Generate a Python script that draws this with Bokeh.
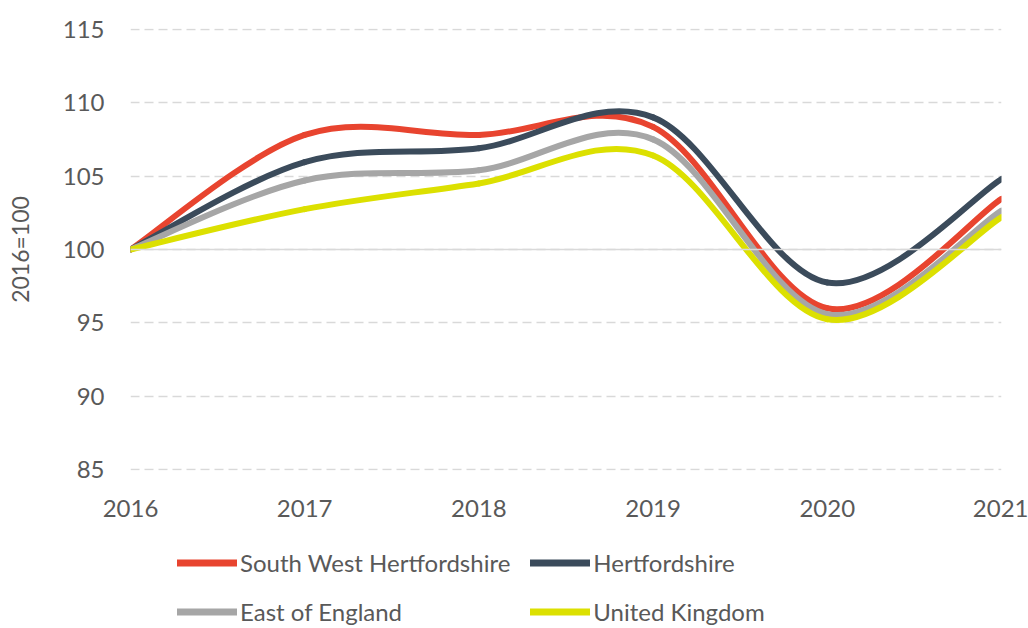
import numpy as np
from bokeh.plotting import figure
from bokeh.layouts import column
from bokeh.models import Legend, LegendItem, Span, FixedTicker, Range1d
from bokeh.embed import file_html
from bokeh.resources import INLINE

# ---- data ----
years = [2016, 2017, 2018, 2019, 2020, 2021]
sw_herts = [100, 107.8, 107.8, 108.35, 96.0, 103.45]
herts = [100, 105.95, 106.9, 109.0, 97.75, 104.8]
east_england = [100, 104.7, 105.4, 107.5, 95.6, 102.65]
united_kingdom = [100, 102.75, 104.5, 106.4, 95.25, 102.2]
series_names = ["South West Hertfordshire", "Hertfordshire", "East of England", "United Kingdom"]
y_ticks = [85, 90, 95, 100, 105, 110, 115]
base_value = 100
y_label = "2016=100"

colors = ["#E8442F", "#3B4B5B", "#A6A6A6", "#DCE000"]
FONT = "Lato"
TXT = "#595959"


def smooth_segments(xs, ys):
    """Bezier segments through the data points (Excel-style smoothed line)."""
    x = np.asarray(xs, float)
    y = np.asarray(ys, float)
    n = len(x)
    xp = np.concatenate([[x[0]], x, [x[-1]]])
    yp = np.concatenate([[y[0]], y, [y[-1]]])
    seg = dict(x0=[], y0=[], x1=[], y1=[], cx0=[], cy0=[], cx1=[], cy1=[])
    for i in range(n - 1):
        j = i + 1
        seg["x0"].append(x[i]); seg["y0"].append(y[i])
        seg["x1"].append(x[i + 1]); seg["y1"].append(y[i + 1])
        seg["cx0"].append(x[i] + (xp[j + 1] - xp[j - 1]) / 6)
        seg["cy0"].append(y[i] + (yp[j + 1] - yp[j - 1]) / 6)
        seg["cx1"].append(x[i + 1] - (xp[j + 2] - xp[j]) / 6)
        seg["cy1"].append(y[i + 1] - (yp[j + 2] - yp[j]) / 6)
    return seg


p = figure(width=1028, height=528, output_backend="svg", toolbar_location=None,
           x_range=Range1d(years[0], years[-1]),
           y_range=Range1d(y_ticks[0] - 0.05, y_ticks[-1] + 0.05),
           min_border_left=130, min_border_right=27, min_border_top=28, min_border_bottom=58)
p.outline_line_color = None
p.background_fill_color = "white"

# grid
p.xgrid.visible = False
p.ygrid.grid_line_color = "#D9D9D9"
p.ygrid.grid_line_width = 1.5
p.ygrid.grid_line_dash = "9 5"
p.add_layout(Span(location=base_value, dimension="width", line_color="#D9D9D9", line_width=1.5))

# axes
for ax in (p.xaxis[0], p.yaxis[0]):
    ax.axis_line_color = None
    ax.major_tick_line_color = None
    ax.minor_tick_line_color = None
    ax.major_label_text_font = FONT
    ax.major_label_text_font_size = "24px"
    ax.major_label_text_color = TXT
p.xaxis.ticker = FixedTicker(ticks=years)
p.yaxis.ticker = FixedTicker(ticks=y_ticks)
p.xaxis.major_label_standoff = 23
p.yaxis.major_label_standoff = 20
p.yaxis.axis_label = y_label
p.yaxis.axis_label_text_font = FONT
p.yaxis.axis_label_text_font_style = "normal"
p.yaxis.axis_label_text_font_size = "23px"
p.yaxis.axis_label_text_color = TXT
p.yaxis.axis_label_standoff = 26

for name, vals, col in zip(series_names, [sw_herts, herts, east_england, united_kingdom], colors):
    seg = smooth_segments(years, vals)
    p.bezier(x0="x0", y0="y0", x1="x1", y1="y1", cx0="cx0", cy0="cy0", cx1="cx1", cy1="cy1",
             source=seg, line_color=col, line_width=6, line_cap="round")

# ---- legend strip below the chart (its frame is aligned with the chart's frame) ----
lg = figure(width=1028, height=100, output_backend="svg", toolbar_location=None,
            x_range=Range1d(0, 1), y_range=Range1d(0, 1),
            x_axis_type=None, y_axis_type=None,
            min_border_left=0, min_border_right=0, min_border_top=0, min_border_bottom=0)
lg.outline_line_color = None
lg.xgrid.visible = False
lg.ygrid.visible = False
items = []
for name, col in zip(series_names, colors):
    # legend-only renderer: a single missing point, nothing is drawn in the frame
    r = lg.line(x=[np.nan], y=[np.nan], line_color=col, line_width=7, line_cap="round")
    items.append(LegendItem(label=name, renderers=[r]))

legend = Legend(items=items, ncols=2, location=(47, 2.5), orientation="horizontal",
                label_text_font=FONT, label_text_font_size="24px", label_text_color=TXT,
                glyph_width=60, glyph_height=29, label_standoff=3, spacing=20,
                padding=0, margin=0, border_line_color=None, background_fill_alpha=0)
lg.add_layout(legend, "center")

layout = column(p, lg, spacing=0)
open("out.html", "w").write(file_html(layout, INLINE))
